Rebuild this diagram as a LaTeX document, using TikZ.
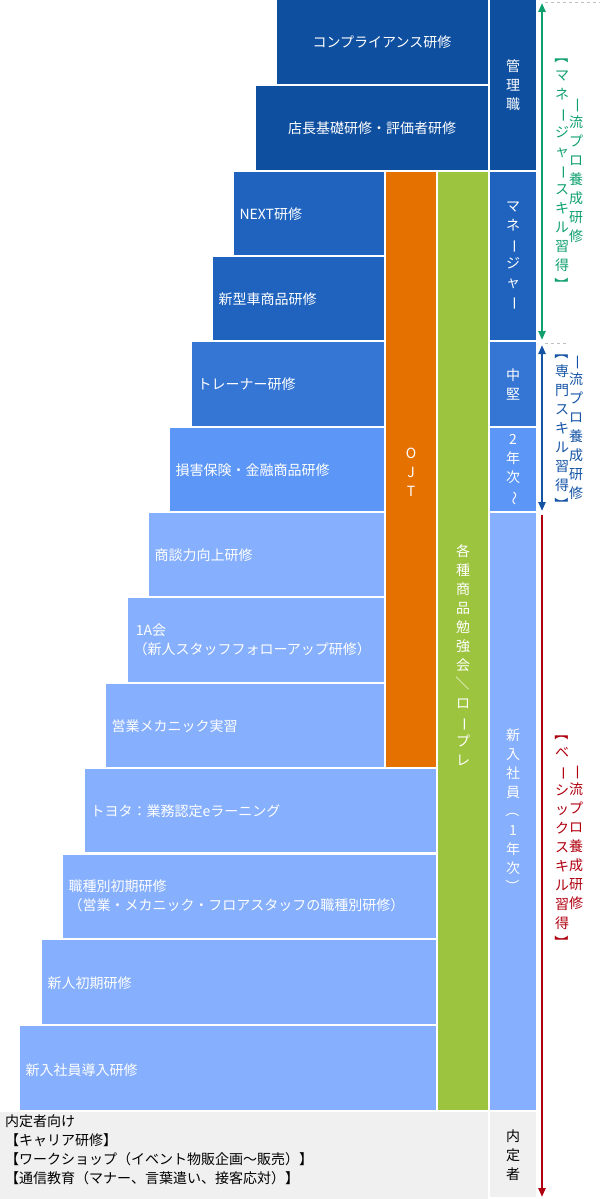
\documentclass[tikz,border=0pt]{standalone}
\usepackage{fontspec}
\setmainfont{Noto Sans CJK JP}
\usetikzlibrary{arrows.meta}
\definecolor{cA}{HTML}{0E4FA0}
\definecolor{cB}{HTML}{1F63BF}
\definecolor{cC}{HTML}{3575D3}
\definecolor{cD}{HTML}{5C96F6}
\definecolor{cE}{HTML}{86AFFD}
\definecolor{cO}{HTML}{E57200}
\definecolor{cG}{HTML}{9DC43E}
\definecolor{cY}{HTML}{F0F0F0}
\definecolor{cGreen}{HTML}{0FA06E}
\definecolor{cNavy}{HTML}{1553A5}
\definecolor{cRed}{HTML}{B0000F}
\newcommand{\vb}[1]{\rotatebox[origin=c]{-90}{#1}}
\begin{document}
\begin{tikzpicture}[x=1pt,y=-1pt,
  txt/.style={font=\fontsize{14}{19}\selectfont},
  lbl/.style={txt,text=white,anchor=west,align=left},
  vt/.style={txt,align=center,inner sep=0pt},
  arr/.style={line width=2.2pt,{Triangle[length=9pt,width=7pt]}-{Triangle[length=9pt,width=7pt]}}]
\useasboundingbox (0,0) rectangle (600,1199);
\newcommand{\bx}[6]{\fill[#5] (#1,#2) rectangle (#3,#4); \node[lbl] (#6) at (#1+5,{(#2+#4)/2}) {};}
% left boxes
\fill[cA] (277,0) rectangle (488,84);
\node[txt,text=white] (r1) at (382,42) {コンプライアンス研修};
\fill[cA] (256,86) rectangle (488,170);
\node[txt,text=white] (r2) at (372,128) {店長基礎研修・評価者研修};
\fill[cB] (234,172) rectangle (384,255);
\node[lbl] (r3) at (236,214) {NEXT研修};
\fill[cB] (213,257) rectangle (384,340);
\node[lbl] (r4) at (215,299) {新型車商品研修};
\fill[cC] (192,342) rectangle (384,426);
\node[lbl] (r5) at (194,384) {トレーナー研修};
\fill[cD] (170,428) rectangle (384,511);
\node[lbl] (r6) at (172,470) {損害保険・金融商品研修};
\fill[cE] (149,513) rectangle (384,596);
\node[lbl] (r7) at (151,555) {商談力向上研修};
\fill[cE] (128,598) rectangle (384,682);
\node[lbl] (r8) at (130,640) {\,1A会\\（新人スタッフフォローアップ研修）};
\fill[cE] (106,684) rectangle (384,767);
\node[lbl] (r9) at (108,726) {営業メカニック実習};
\fill[cE] (85,769) rectangle (436,852);
\node[lbl] (r10) at (87,811) {トヨタ：業務認定eラーニング};
\fill[cE] (63,855) rectangle (436,938);
\node[lbl] (r11) at (65,896) {職種別初期研修\\（営業・メカニック・フロアスタッフの職種別研修）};
\fill[cE] (42,940) rectangle (436,1024);
\node[lbl] (r12) at (44,983) {新人初期研修};
\fill[cE] (20,1026) rectangle (436,1110);
\node[lbl] (r13) at (22,1070) {新入社員導入研修};
% bars
\fill[cO] (386,172) rectangle (436,767);
\node[vt,text=white] (ojt) at (411,472) {O\\J\\T};
\fill[cG] (438,172) rectangle (488,1110);
\node[vt,text=white] (green) at (463,655) {各\\種\\商\\品\\勉\\強\\会\\\vb{／}\\ロ\\\vb{ー}\\プ\\レ};
% bottom
\fill[cY] (0,1112) rectangle (488,1199);
\node[txt,anchor=north west,align=left,inner sep=0pt] (naitei) at (5,1114)
 {内定者向け\\【キャリア研修】\\【ワークショップ（イベント物販企画〜販売）】\\【通信教育（マナー、言葉遣い、接客応対）】};
% right column
\fill[cA] (490,0) rectangle (536,170);
\node[vt,text=white] (k1) at (513,85) {管\\理\\職};
\fill[cB] (490,172) rectangle (536,340);
\node[vt,text=white] (k2) at (513,256) {マ\\ネ\\\vb{ー}\\ジ\\ャ\\\vb{ー}};
\fill[cC] (490,342) rectangle (536,426);
\node[vt,text=white] (k3) at (513,384) {中\\堅};
\fill[cD] (490,428) rectangle (536,511);
\node[vt,text=white] (k4) at (513,470) {2\\年\\次\\\vb{〜}};
\fill[cE] (490,513) rectangle (536,1110);
\node[vt,text=white] (k5) at (513,811) {新\\入\\社\\員\\\vb{（}\\1\\年\\次\\\vb{）}};
\fill[cY] (490,1112) rectangle (536,1197);
\node[vt] (k6) at (513,1155) {内\\定\\者};
% arrows
\coordinate (g1) at (542,3); \coordinate (g2) at (542,340);
\coordinate (n1) at (542,345); \coordinate (n2) at (542,511);
\coordinate (d1) at (542,515); \coordinate (d2) at (542,1197);
\draw[arr,cGreen] (g1) -- (g2);
\draw[arr,cNavy] (n1) -- (n2);
\draw[arr,cRed,-{Triangle[length=9pt,width=7pt]}] (d1) -- (d2);
\draw[gray!50,dashed,line width=0.8pt] (545,2) -- (600,2);
\draw[gray!50,dashed,line width=0.8pt] (545,343) -- (567,343);
% labels
\node[vt,text=cGreen] (lg) at (576,171) {\vb{一}\\流\\プ\\ロ\\養\\成\\研\\修};
\node[vt,text=cGreen] (lg2) at (562,170) {\vb{【}\\マ\\ネ\\\vb{ー}\\ジ\\ャ\\\vb{ー}\\ス\\キ\\ル\\習\\得\\\vb{】}};
\node[vt,text=cNavy] (ln) at (576,428) {\vb{一}\\流\\プ\\ロ\\養\\成\\研\\修};
\node[vt,text=cNavy] (ln2) at (562,428) {\vb{【}\\専\\門\\ス\\キ\\ル\\習\\得\\\vb{】}};
\node[vt,text=cRed] (lr) at (576,838) {\vb{一}\\流\\プ\\ロ\\養\\成\\研\\修};
\node[vt,text=cRed] (lr2) at (562,838) {\vb{【}\\ベ\\\vb{ー}\\シ\\ッ\\ク\\ス\\キ\\ル\\習\\得\\\vb{】}};
\end{tikzpicture}
\end{document}
